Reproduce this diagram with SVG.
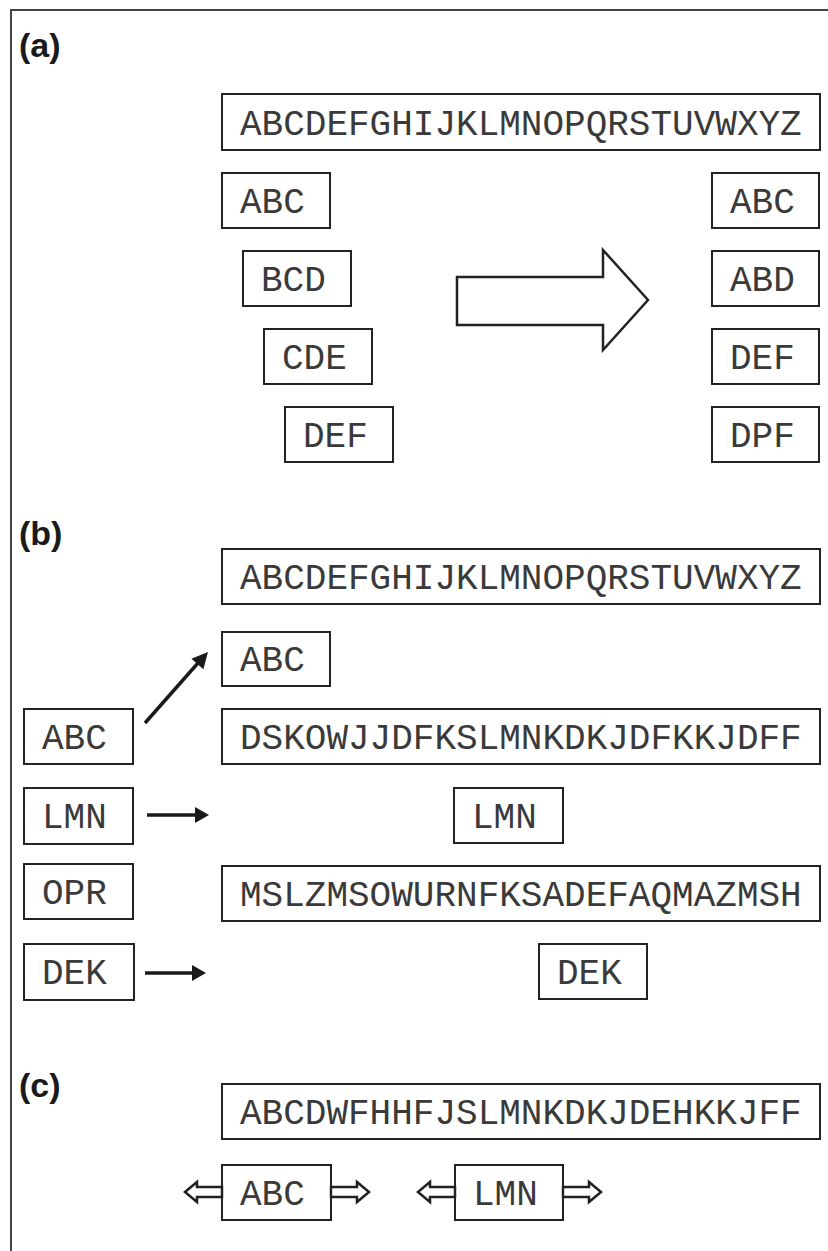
<svg xmlns="http://www.w3.org/2000/svg" width="828" height="1251" viewBox="0 0 828 1251">
  <defs>
    <style>
      .box { fill: #fff; stroke: #222; stroke-width: 2; }
      .t { font-family: "Courier New", "Nimbus Mono PS", "Nimbus Mono L", FreeMono, "Liberation Mono", monospace; font-size: 36px; fill: #3a3a3a; }
      .lbl { font-family: "Liberation Sans", Arial, sans-serif; font-size: 34px; font-weight: bold; fill: #1a1a1a; }
      .line { stroke: #1a1a1a; stroke-width: 3.5; fill: none; }
      .head { fill: #1a1a1a; }
      .hollow { fill: #fff; stroke: #222; stroke-width: 2.5; stroke-linejoin: miter; }
    </style>
  </defs>
  <rect width="828" height="1251" fill="#fff"/>

  <!-- frame -->
  <path d="M11,1251 V10 H828" stroke="#444" stroke-width="2" fill="none"/>

  <!-- panel (a) -->
  <text class="lbl" x="19" y="57">(a)</text>
  <g id="a-seq"><rect class="box" x="222" y="94" width="598" height="56"/><text class="t" x="240" y="135">ABCDEFGHIJKLMNOPQRSTUVWXYZ</text></g>
  <g id="a-abc"><rect class="box" x="222" y="173" width="108" height="55"/><text class="t" x="240" y="213">ABC</text></g>
  <g id="a-bcd"><rect class="box" x="243" y="251" width="108" height="55"/><text class="t" x="261" y="291">BCD</text></g>
  <g id="a-cde"><rect class="box" x="264" y="329" width="108" height="55"/><text class="t" x="282" y="369">CDE</text></g>
  <g id="a-def"><rect class="box" x="285" y="407" width="108" height="55"/><text class="t" x="303" y="447">DEF</text></g>
  <g id="a-r-abc"><rect class="box" x="712" y="173" width="107" height="55"/><text class="t" x="730" y="213">ABC</text></g>
  <g id="a-r-abd"><rect class="box" x="712" y="251" width="107" height="55"/><text class="t" x="730" y="291">ABD</text></g>
  <g id="a-r-def"><rect class="box" x="712" y="329" width="107" height="55"/><text class="t" x="730" y="369">DEF</text></g>
  <g id="a-r-dpf"><rect class="box" x="712" y="407" width="107" height="55"/><text class="t" x="730" y="447">DPF</text></g>

  <!-- panel (b) -->
  <text class="lbl" x="19" y="545">(b)</text>
  <g id="b-seq"><rect class="box" x="222" y="549" width="598" height="55"/><text class="t" x="240" y="589">ABCDEFGHIJKLMNOPQRSTUVWXYZ</text></g>
  <g id="b-abc-hit"><rect class="box" x="222" y="632" width="108" height="54"/><text class="t" x="240" y="671">ABC</text></g>
  <g id="b-dsk"><rect class="box" x="222" y="709" width="598" height="55"/><text class="t" x="240" y="749">DSKOWJJDFKSLMNKDKJDFKKJDFF</text></g>
  <g id="b-lmn-hit"><rect class="box" x="454" y="788" width="109" height="55"/><text class="t" x="472" y="828">LMN</text></g>
  <g id="b-msl"><rect class="box" x="222" y="866" width="598" height="55"/><text class="t" x="240" y="906">MSLZMSOWURNFKSADEFAQMAZMSH</text></g>
  <g id="b-dek-hit"><rect class="box" x="539" y="944" width="108" height="55"/><text class="t" x="557" y="984">DEK</text></g>
  <g id="b-abc"><rect class="box" x="24" y="709" width="109" height="55"/><text class="t" x="42" y="749">ABC</text></g>
  <g id="b-lmn"><rect class="box" x="24" y="788" width="109" height="56"/><text class="t" x="42" y="828">LMN</text></g>
  <g id="b-opr"><rect class="box" x="24" y="864" width="109" height="55"/><text class="t" x="42" y="904">OPR</text></g>
  <g id="b-dek"><rect class="box" x="24" y="944" width="110" height="56"/><text class="t" x="42" y="984">DEK</text></g>

  <!-- panel (c) -->
  <text class="lbl" x="19" y="1097">(c)</text>
  <g id="c-seq"><rect class="box" x="222" y="1084" width="598" height="55"/><text class="t" x="240" y="1124">ABCDWFHHFJSLMNKDKJDEHKKJFF</text></g>
  <g id="c-abc"><rect class="box" x="222" y="1165" width="109" height="55"/><text class="t" x="240" y="1205">ABC</text></g>
  <g id="c-lmn"><rect class="box" x="455" y="1165" width="108" height="55"/><text class="t" x="473" y="1205">LMN</text></g>

  <!-- connectors -->
  <g id="connectors">
    <polygon class="hollow" points="457,277 603,277 603,250 648,300 603,350 603,325 457,325" stroke-width="2"/>
    <line class="line" x1="145" y1="723" x2="198" y2="663"/>
    <polygon class="head" points="208,652 203.4,669.3 191.4,658.7"/>
    <line class="line" x1="147" y1="815" x2="196" y2="815"/>
    <polygon class="head" points="195,807 209,815 195,823"/>
    <line class="line" x1="145" y1="973" x2="193" y2="973"/>
    <polygon class="head" points="192,965 206,973 192,981"/>
    <polygon class="hollow" points="185,1192 197,1182 197,1187 222,1187 222,1197 197,1197 197,1202"/>
    <polygon class="hollow" points="331,1187 357,1187 357,1182 369,1192 357,1202 357,1197 331,1197"/>
    <polygon class="hollow" points="418,1192 430,1182 430,1187 455,1187 455,1197 430,1197 430,1202"/>
    <polygon class="hollow" points="563,1187 589,1187 589,1182 601,1192 589,1202 589,1197 563,1197"/>
  </g>
</svg>
